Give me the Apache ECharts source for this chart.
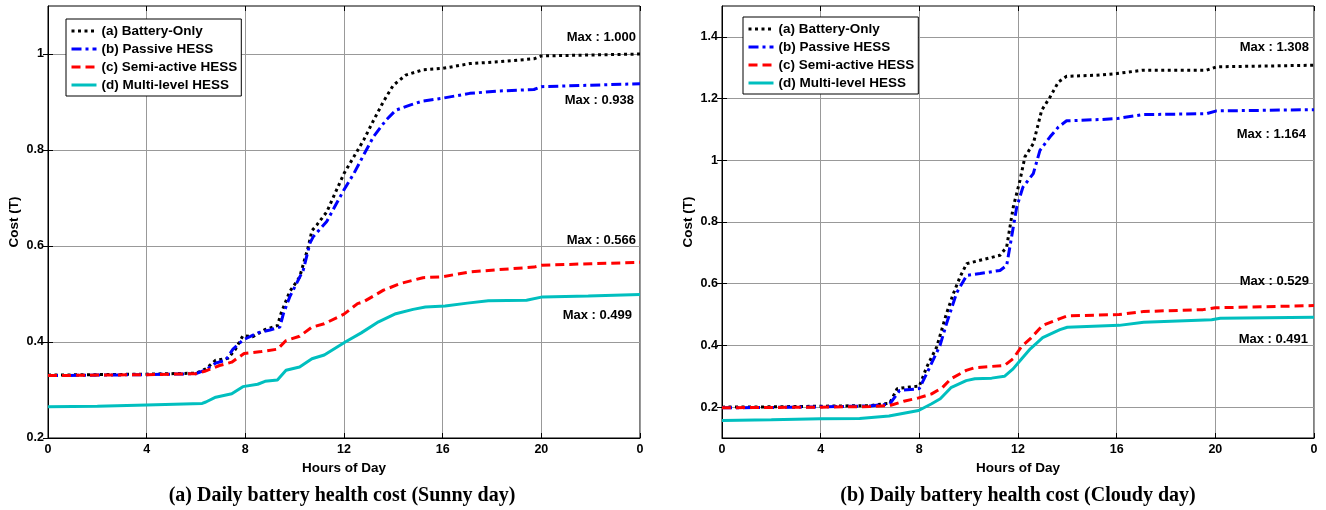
<!DOCTYPE html>
<html>
<head>
<meta charset="utf-8">
<title>Daily battery health cost</title>
<script src="https://cdn.jsdelivr.net/npm/echarts@6/dist/echarts.min.js"></script>
<style>
  html, body { margin: 0; padding: 0; background: #fff; }
  #chart { width: 1326px; height: 510px; }
</style>
</head>
<body>
<div id="chart"></div>
<script>
// --- data ---
const hourTicks = [0, 4, 8, 12, 16, 20, 24];
const sunnyCostTicks = [0.2, 0.4, 0.6, 0.8, 1];
const cloudyCostTicks = [0.2, 0.4, 0.6, 0.8, 1, 1.2, 1.4];
const seriesNames = ['(a) Battery-Only', '(b) Passive HESS', '(c) Semi-active HESS', '(d) Multi-level HESS'];

// (a) Sunny day
const sunnyBatteryHours = [0, 2, 4, 6, 6.4, 6.8, 7.3, 7.6, 7.9, 8.3, 8.8, 9.3, 9.45, 9.8, 10.2, 10.55, 10.7, 10.9, 11.3, 11.7, 12.0, 12.4, 12.8, 13.2, 13.6, 14.0, 14.5, 15.2, 16.0, 17.1, 18.3, 19.7, 20.0, 22, 24];
const sunnyBatteryCost = [0.331, 0.332, 0.333, 0.335, 0.344, 0.362, 0.366, 0.385, 0.413, 0.411, 0.426, 0.434, 0.46, 0.505, 0.535, 0.598, 0.632, 0.644, 0.671, 0.717, 0.751, 0.786, 0.821, 0.862, 0.901, 0.935, 0.956, 0.967, 0.970, 0.980, 0.984, 0.990, 0.996, 0.998, 1.000];
const sunnyPassiveHours = [0, 2, 4, 6, 6.4, 6.8, 7.2, 7.5, 7.9, 8.5, 9.0, 9.4, 9.55, 9.8, 10.35, 10.62, 10.75, 11.3, 11.7, 12.0, 12.4, 12.8, 13.2, 13.7, 14.1, 14.7, 15.2, 16.0, 17.1, 18.3, 19.7, 20.0, 22, 24];
const sunnyPassiveCost = [0.330, 0.331, 0.332, 0.334, 0.342, 0.356, 0.362, 0.385, 0.404, 0.419, 0.425, 0.431, 0.46, 0.494, 0.55, 0.606, 0.619, 0.651, 0.689, 0.717, 0.751, 0.79, 0.828, 0.862, 0.883, 0.894, 0.902, 0.908, 0.918, 0.923, 0.926, 0.932, 0.935, 0.938];
const sunnySemiHours = [0, 2, 4, 6, 6.35, 6.95, 7.45, 7.95, 8.65, 9.3, 9.65, 10.2, 10.7, 11.2, 12.0, 12.55, 12.8, 13.6, 14.3, 15.2, 16.0, 17.1, 18.3, 19.7, 20.0, 22, 24];
const sunnySemiCost = [0.330, 0.331, 0.332, 0.334, 0.339, 0.351, 0.358, 0.376, 0.380, 0.385, 0.403, 0.412, 0.431, 0.438, 0.458, 0.48, 0.484, 0.508, 0.522, 0.534, 0.536, 0.546, 0.551, 0.556, 0.560, 0.563, 0.566];
const sunnyMultiHours = [0, 2, 4, 6.25, 6.4, 6.8, 7.45, 7.9, 8.5, 8.8, 9.3, 9.65, 10.2, 10.7, 11.2, 12.05, 12.7, 13.4, 14.1, 14.8, 15.3, 16.1, 17.0, 17.85, 19.4, 20.05, 21.9, 24];
const sunnyMultiCost = [0.265, 0.266, 0.269, 0.272, 0.275, 0.285, 0.292, 0.307, 0.312, 0.318, 0.321, 0.341, 0.348, 0.365, 0.373, 0.400, 0.419, 0.442, 0.459, 0.468, 0.473, 0.475, 0.481, 0.486, 0.487, 0.494, 0.496, 0.499];

// (b) Cloudy day
const cloudyBatteryHours = [0, 2, 4, 6, 6.8, 7.1, 7.6, 8.0, 8.3, 8.7, 9.1, 9.38, 9.65, 9.92, 10.46, 11.27, 11.54, 11.81, 12.08, 12.28, 12.62, 12.96, 13.3, 13.64, 13.97, 15.3, 16.0, 17.07, 19.65, 20.05, 24];
const cloudyBatteryCost = [0.200, 0.201, 0.203, 0.205, 0.213, 0.26, 0.265, 0.268, 0.33, 0.394, 0.503, 0.568, 0.622, 0.665, 0.676, 0.692, 0.719, 0.849, 0.935, 1.011, 1.054, 1.162, 1.205, 1.254, 1.272, 1.276, 1.281, 1.292, 1.292, 1.303, 1.308];
const cloudyPassiveHours = [0, 2, 4, 6, 6.8, 7.2, 8.0, 8.3, 8.84, 9.1, 9.51, 9.92, 10.46, 11.27, 11.54, 11.67, 11.95, 12.2, 12.62, 12.89, 13.3, 13.64, 13.97, 15.3, 16.0, 17.07, 19.65, 20.05, 24];
const cloudyPassiveCost = [0.198, 0.199, 0.201, 0.204, 0.21, 0.254, 0.26, 0.309, 0.40, 0.47, 0.57, 0.627, 0.633, 0.643, 0.659, 0.719, 0.849, 0.913, 0.957, 1.032, 1.076, 1.108, 1.128, 1.132, 1.135, 1.148, 1.151, 1.16, 1.164];
const cloudySemiHours = [0, 2, 4, 6, 6.8, 7.37, 7.97, 8.5, 8.93, 9.28, 9.9, 10.25, 11.45, 11.8, 12.15, 12.5, 13.0, 13.7, 14.0, 16.1, 17.1, 19.5, 20.0, 24];
const cloudySemiCost = [0.198, 0.199, 0.200, 0.202, 0.205, 0.219, 0.23, 0.243, 0.263, 0.292, 0.319, 0.328, 0.335, 0.357, 0.397, 0.422, 0.465, 0.487, 0.496, 0.50, 0.51, 0.516, 0.522, 0.529];
const cloudyMultiHours = [0, 2, 4, 5.58, 6.77, 7.37, 7.97, 8.5, 8.85, 9.28, 9.9, 10.25, 10.93, 11.45, 11.8, 12.15, 12.5, 13.0, 13.7, 14.0, 16.1, 17.1, 19.85, 20.2, 24];
const cloudyMultiCost = [0.157, 0.159, 0.162, 0.163, 0.171, 0.18, 0.189, 0.211, 0.227, 0.263, 0.286, 0.292, 0.294, 0.30, 0.324, 0.357, 0.389, 0.425, 0.451, 0.459, 0.465, 0.475, 0.483, 0.488, 0.491];

// --- styles ---
const FONT = 'Liberation Sans, Arial, sans-serif';
const lineStyles = [
  { color: '#000000', width: 3, type: [3, 3.5] },
  { color: '#0000ff', width: 3, type: [10, 4, 3, 4] },
  { color: '#ff0000', width: 3, type: [9, 5] },
  { color: '#00bfbf', width: 3, type: 'solid' }
];
const grids = [
  { left: 48, top: 6, width: 592, height: 432 },
  { left: 722, top: 6, width: 592, height: 432 }
];

function pts(hours, cost) {
  return hours.map((h, i) => [h, cost[i]]);
}

function makeSeries(gridIdx, idx, hours, cost, labelOffset) {
  const maxVal = Math.max.apply(null, cost);
  return {
    name: seriesNames[idx],
    type: 'line',
    xAxisIndex: gridIdx * 2,
    yAxisIndex: gridIdx * 2,
    data: pts(hours, cost),
    showSymbol: false,
    symbol: 'none',
    lineStyle: Object.assign({ cap: 'butt' }, lineStyles[idx]),
    itemStyle: { color: lineStyles[idx].color },
    markPoint: {
      silent: true,
      symbol: 'circle',
      symbolSize: 1,
      itemStyle: { color: 'rgba(0,0,0,0)' },
      label: {
        show: true,
        position: 'inside',
        offset: labelOffset,
        align: 'right',
        verticalAlign: 'middle',
        fontFamily: FONT,
        fontWeight: 'bold',
        fontSize: 13,
        color: '#000',
        formatter: () => 'Max : ' + maxVal.toFixed(3)
      },
      data: [{ coord: [hours[hours.length - 1], cost[cost.length - 1]] }]
    }
  };
}

function xAxes(gridIdx) {
  return [
    {
      type: 'value', gridIndex: gridIdx, min: 0, max: 24, interval: 4,
      name: 'Hours of Day', nameLocation: 'middle', nameGap: 18,
      nameTextStyle: { fontFamily: FONT, fontWeight: 'bold', fontSize: 13.5, color: '#000' },
      axisLine: { lineStyle: { color: '#000', width: 1 } },
      axisTick: { inside: true, length: 5, lineStyle: { color: '#000' } },
      axisLabel: {
        margin: 5, fontFamily: FONT, fontWeight: 'bold', fontSize: 12.5, color: '#000',
        formatter: v => (v === 24 ? '0' : String(v))
      },
      splitLine: { show: true, lineStyle: { color: '#999', width: 1 } }
    },
    {
      type: 'value', gridIndex: gridIdx, position: 'top', min: 0, max: 24, interval: 4,
      axisLine: { show: false },
      axisTick: { inside: true, length: 5, lineStyle: { color: '#000' } },
      axisLabel: { show: false },
      splitLine: { show: false }
    }
  ];
}

function yAxes(gridIdx, min, max, ticks) {
  const tickStyle = { inside: true, length: 5, lineStyle: { color: '#000' }, customValues: ticks };
  return [
    {
      type: 'value', gridIndex: gridIdx, min: min, max: max,
      name: 'Cost (T)', nameLocation: 'middle', nameGap: 27,
      nameTextStyle: { fontFamily: FONT, fontWeight: 'bold', fontSize: 13.5, color: '#000' },
      axisLine: { show: true, lineStyle: { color: '#000', width: 1 } },
      axisTick: tickStyle,
      axisLabel: {
        margin: 4, fontFamily: FONT, fontWeight: 'bold', fontSize: 12.5, color: '#000',
        customValues: ticks
      },
      splitLine: { show: true, lineStyle: { color: '#999', width: 1 } }
    },
    {
      type: 'value', gridIndex: gridIdx, position: 'right', min: min, max: max,
      axisLine: { show: false },
      axisTick: tickStyle,
      axisLabel: { show: false, customValues: ticks },
      splitLine: { show: false }
    }
  ];
}

function legendAt(left, top) {
  return {
    orient: 'vertical',
    left: left, top: top,
    data: seriesNames,
    itemWidth: 25,
    itemHeight: 14,
    itemGap: 4,
    padding: [5, 4, 4, 4],
    borderColor: '#000',
    borderWidth: 1,
    backgroundColor: '#fff',
    selectedMode: false,
    itemStyle: { opacity: 0 },
    lineStyle: { width: 3 },
    textStyle: { fontFamily: FONT, fontWeight: 'bold', fontSize: 13.5, color: '#000' }
  };
}

function caption(cx, text) {
  return {
    type: 'text', x: cx, y: 496,
    style: {
      text: text,
      font: 'bold 20px "Liberation Serif", "Times New Roman", serif',
      fill: '#000', align: 'center', verticalAlign: 'middle'
    }
  };
}

const chart = echarts.init(document.getElementById('chart'));
chart.setOption({
  animation: false,
  backgroundColor: '#fff',
  grid: grids.map(g => Object.assign({ show: true, borderColor: '#000', borderWidth: 1, backgroundColor: '#fff' }, g)),
  xAxis: xAxes(0).concat(xAxes(1)),
  yAxis: yAxes(0, 0.2, 1.1, sunnyCostTicks).concat(yAxes(1, 0.1, 1.5, cloudyCostTicks)),
  legend: [legendAt(66, 19), legendAt(743, 17)],
  series: [
    makeSeries(0, 0, sunnyBatteryHours, sunnyBatteryCost, [-4, -17]),
    makeSeries(0, 1, sunnyPassiveHours, sunnyPassiveCost, [-6, 17]),
    makeSeries(0, 2, sunnySemiHours, sunnySemiCost, [-4, -22]),
    makeSeries(0, 3, sunnyMultiHours, sunnyMultiCost, [-8, 21]),
    makeSeries(1, 0, cloudyBatteryHours, cloudyBatteryCost, [-5, -18]),
    makeSeries(1, 1, cloudyPassiveHours, cloudyPassiveCost, [-8, 25]),
    makeSeries(1, 2, cloudySemiHours, cloudySemiCost, [-5, -24]),
    makeSeries(1, 3, cloudyMultiHours, cloudyMultiCost, [-6, 22])
  ],
  graphic: [
    caption(342, '(a) Daily battery health cost (Sunny day)'),
    caption(1018, '(b) Daily battery health cost (Cloudy day)')
  ]
});
</script>
</body>
</html>
